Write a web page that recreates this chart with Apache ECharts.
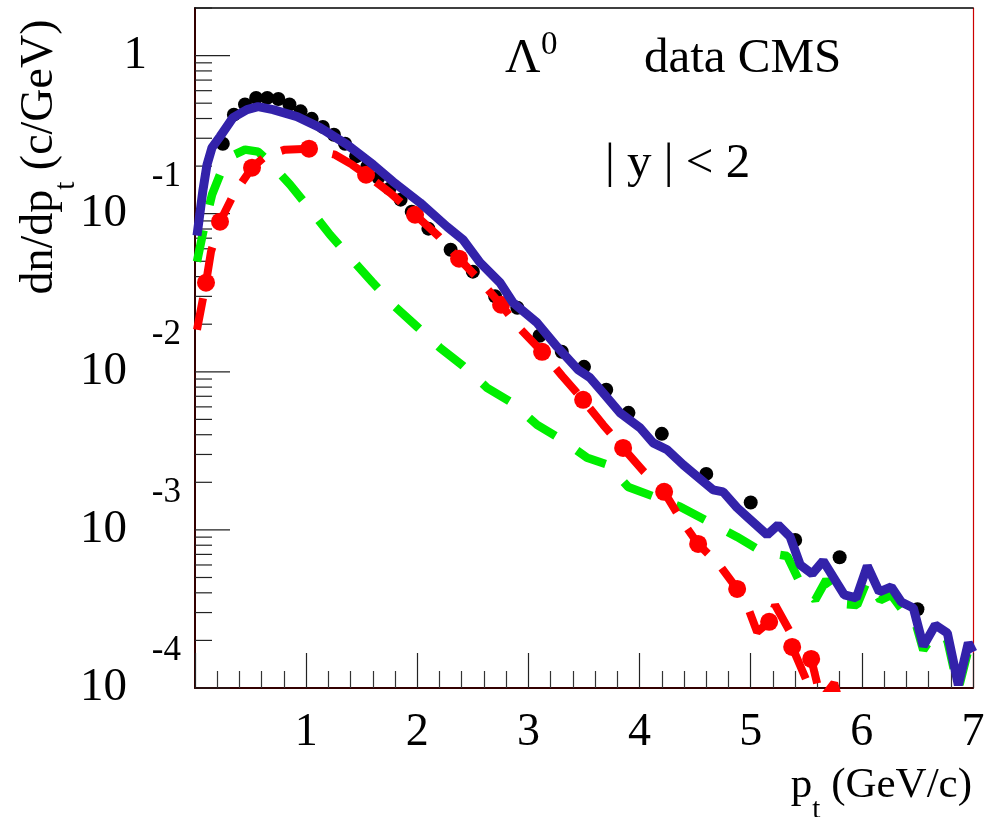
<!DOCTYPE html>
<html><head><meta charset="utf-8">
<script src="https://cdn.jsdelivr.net/npm/echarts@6/dist/echarts.min.js"></script>
<style>html,body{margin:0;padding:0;background:#fff}#c{width:996px;height:817px}</style>
</head><body><div id="c"></div>
<script>
const FONT = '"Liberation Serif", "Times New Roman", serif';

// CMS data points (pt, dn/dpt)
const dataPt = [0.25,0.35,0.45,0.55,0.65,0.75,0.85,0.95,1.05,1.15,1.25,1.35,1.45,1.55,1.65,1.75,1.85,1.95,2.1,2.3,2.5,2.7,2.9,3.1,3.3,3.5,3.7,3.9,4.2,4.6,5.0,5.4,5.8,6.5];
const dataY = [0.277,0.423,0.490,0.540,0.540,0.532,0.490,0.444,0.398,0.354,0.316,0.277,0.2305,0.198,0.169,0.144,0.1227,0.103,0.0804,0.0592,0.043,0.030,0.0254,0.0169,0.0134,0.01075,0.0077,0.0055,0.00405,0.00226,0.00149,0.000864,0.000672,0.000315];

// blue solid curve (total)
const bluePt = [0.018,0.072,0.108,0.153,0.225,0.342,0.468,0.567,0.702,0.918,1.125,1.368,1.602,1.782,2.025,2.268,2.412,2.565,2.745,2.862,3.078,3.258,3.447,3.555,3.672,3.825,4.005,4.122,4.248,4.392,4.662,4.752,4.878,4.968,5.148,5.247,5.355,5.445,5.553,5.652,5.842,5.950,6.049,6.157,6.265,6.355,6.463,6.553,6.661,6.769,6.868,6.958,7.0];
const blueY = [0.0726,0.1419,0.2042,0.2618,0.3072,0.4051,0.4551,0.4757,0.4551,0.4111,0.3502,0.2734,0.2042,0.1594,0.1174,0.0827,0.0684,0.0490,0.0366,0.02734,0.02042,0.01439,0.01030,0.00916,0.00736,0.00550,0.00442,0.00355,0.00321,0.00258,0.00179,0.00174,0.00138,0.00121,0.000930,0.001075,0.000903,0.000601,0.000527,0.000637,0.000388,0.000371,0.000592,0.000405,0.000436,0.000350,0.000321,0.000184,0.000250,0.000223,0.0001044,0.000193,0.000169];

// green dashed curve
const greenPt = [0.018,0.072,0.153,0.225,0.333,0.45,0.567,0.648,0.855,1.053,1.215,1.413,1.593,1.80,1.998,2.205,2.412,2.628,2.853,3.078,3.303,3.528,3.717,3.897,4.113,4.365,4.608,4.878,5.103,5.328,5.445,5.58,5.68,5.833,5.958,6.049,6.166,6.265,6.364,6.463,6.553,6.661,6.769,6.868,6.958,7.0];
const greenY = [0.0497,0.0758,0.1319,0.1766,0.2329,0.2542,0.2469,0.2197,0.1527,0.1030,0.0736,0.0512,0.0371,0.02579,0.01927,0.01418,0.01091,0.00792,0.00637,0.00462,0.00371,0.00286,0.00258,0.00187,0.00164,0.00140,0.00114,0.000903,0.000726,0.000684,0.000462,0.000360,0.000483,0.000340,0.000335,0.000483,0.000360,0.000388,0.000312,0.000290,0.000174,0.000226,0.000201,0.000098,0.000174,0.000150];

// red dashed curve
const redPt = [0.018,0.099,0.144,0.225,0.351,0.513,0.639,0.81,1.026,1.26,1.413,1.539,1.755,1.98,2.187,2.376,2.565,2.754,2.934,3.123,3.303,3.492,3.672,3.852,4.032,4.221,4.374,4.527,4.725,4.878,4.95,5.058,5.166,5.22,5.355,5.373,5.508,5.544,5.634,5.751,5.824];
const redY = [0.01844,0.0366,0.0575,0.0890,0.1338,0.1955,0.2329,0.2542,0.2579,0.2362,0.2042,0.1766,0.1358,0.0986,0.0726,0.0519,0.0377,0.02655,0.01844,0.01338,0.00943,0.00665,0.00462,0.00330,0.00236,0.00174,0.001157,0.000815,0.000592,0.000423,0.000360,0.000226,0.000262,0.000335,0.000226,0.000182,0.0001091,0.0001526,0.000084,0.0001075,0.00007];

// red markers on the red curve
const redDotPt = [0.099,0.225,0.513,1.026,1.539,1.98,2.376,2.754,3.123,3.492,3.852,4.221,4.527,4.878,5.166,5.373,5.544];
const redDotY = [0.0366,0.0890,0.1955,0.2579,0.1766,0.0986,0.0519,0.02655,0.01338,0.00665,0.00330,0.00174,0.000815,0.000423,0.000262,0.000182,0.0001526];

// axis ticks / labels
const xTickLabels = ['', '1', '2', '3', '4', '5', '6', '7'];
const yDecades = [1e-4, 1e-3, 1e-2, 1e-1, 1];
const yMinorMult = [2, 3, 4, 5, 6, 7, 8, 9];

const zip = (a, b) => a.map((v, i) => [v, b[i]]);

const yTickData = [];
yDecades.forEach(d => {
  yTickData.push([0, d, 35]);
  yMinorMult.forEach(m => { if (m * d <= 2.0001) yTickData.push([0, m * d, 17]); });
});

const chart = echarts.init(document.getElementById('c'), null, {renderer: 'canvas'});
const option = {
  animation: false,
  backgroundColor: '#fff',
  grid: {left: 195, right: 23, top: 8, bottom: 129, containLabel: false, outerBoundsMode: 'none'},
  xAxis: [{
    type: 'value', min: 0, max: 7, interval: 1,
    axisLine: {onZero: false, lineStyle: {color: '#330000', width: 2}},
    axisTick: {inside: true, length: 35, lineStyle: {color: '#222', width: 1.2}},
    minorTick: {show: true, splitNumber: 5, length: 17, lineStyle: {color: '#333', width: 1.2}},
    splitLine: {show: false},
    axisLabel: {
      margin: 23, fontFamily: FONT, fontSize: 46, lineHeight: 44, color: '#000',
      formatter: v => xTickLabels[Math.round(v)] || ''
    }
  }, {
    type: 'value', min: 0, max: 7, position: 'top',
    axisLine: {onZero: false, lineStyle: {color: '#000', width: 1.5}},
    axisTick: {show: false}, axisLabel: {show: false}, splitLine: {show: false}
  }],
  yAxis: [{
    type: 'log', min: 1e-4, max: 2, logBase: 10,
    axisLine: {onZero: false, lineStyle: {color: '#330000', width: 2}},
    axisTick: {show: false},
    splitLine: {show: false},
    axisLabel: {
      margin: 14, color: '#000', fontFamily: FONT,
      padding: [0, 0, 30, 0],
      formatter: function (v) {
        const lg = Math.log10(v), e = Math.round(lg);
        if (Math.abs(lg - e) > 1e-6) return '';
        if (e === 0) return '{sp| }\n{one|1}';
        return '{e|' + e + '}\n{b|10}';
      },
      rich: {
        e: {fontFamily: FONT, fontSize: 35, lineHeight: 30, color: '#000', align: 'right'},
        b: {fontFamily: FONT, fontSize: 47, lineHeight: 44, color: '#000', align: 'left', padding: [0, 54, 0, 0]},
        sp: {fontFamily: FONT, fontSize: 10, lineHeight: 30},
        one: {fontFamily: FONT, fontSize: 47, lineHeight: 44, color: '#000', align: 'left', padding: [0, 34, 0, 0]}
      }
    }
  }, {
    type: 'value', min: 0, max: 1, position: 'right',
    axisLine: {onZero: false, lineStyle: {color: '#cc0000', width: 1.2}},
    axisTick: {show: false}, axisLabel: {show: false}, splitLine: {show: false}
  }],
  graphic: [
    {type: 'text', x: 40, y: 157, rotation: Math.PI / 2,
     style: {text: '{a|dn/dp}{s|t}{a| (c/GeV)}', align: 'center', verticalAlign: 'middle',
       textAlign: 'center', textVerticalAlign: 'middle', fill: '#000',
       rich: {a: {fontFamily: FONT, fontSize: 46, lineHeight: 46, fill: '#000', color: '#000'},
              s: {fontFamily: FONT, fontSize: 29, lineHeight: 29, padding: [52, 0, 0, 0], fill: '#000', color: '#000'}}}},
    {type: 'text', x: 972, y: 786,
     style: {text: '{a|p}{s|t}{a| (GeV/c)}', align: 'right', verticalAlign: 'middle',
       textAlign: 'right', textVerticalAlign: 'middle', fill: '#000',
       rich: {a: {fontFamily: FONT, fontSize: 43, lineHeight: 43, fill: '#000', color: '#000'},
              s: {fontFamily: FONT, fontSize: 29, lineHeight: 29, padding: [48, 0, 0, 0], fill: '#000', color: '#000'}}}},
    {type: 'text', x: 505, y: 59, style: {text: 'Λ', fontFamily: FONT, fontSize: 49, fill: '#000', align: 'left', verticalAlign: 'middle', textAlign: 'left', textVerticalAlign: 'middle'}},
    {type: 'text', x: 541, y: 45, style: {text: '0', fontFamily: FONT, fontSize: 33, fill: '#000', align: 'left', verticalAlign: 'middle', textAlign: 'left', textVerticalAlign: 'middle'}},
    {type: 'text', x: 644, y: 59, style: {text: 'data CMS', fontFamily: FONT, fontSize: 49, fill: '#000', align: 'left', verticalAlign: 'middle', textAlign: 'left', textVerticalAlign: 'middle'}},
    {type: 'text', x: 605, y: 164, style: {text: '| y | < 2', fontFamily: FONT, fontSize: 49, fill: '#000', align: 'left', verticalAlign: 'middle', textAlign: 'left', textVerticalAlign: 'middle'}}
  ],
  series: [
    {
      type: 'custom', name: 'yticks', silent: true, data: yTickData,
      encode: {x: 0, y: 1},
      renderItem: function (params, api) {
        const p = api.coord([0, api.value(1)]);
        const len = api.value(2);
        return {type: 'line', shape: {x1: p[0], y1: p[1], x2: p[0] + len, y2: p[1]},
                style: {stroke: '#222', lineWidth: 1.2}};
      }
    },
    {
      type: 'scatter', name: 'data CMS', data: zip(dataPt, dataY),
      symbol: 'circle', symbolSize: 14, itemStyle: {color: '#000', opacity: 1}, silent: true
    },
    {
      type: 'line', name: 'green', data: zip(greenPt, greenY), showSymbol: false, clip: true,
      lineStyle: {color: '#00ee00', width: 8.5, type: [32, 26]}, silent: true
    },
    {
      type: 'line', name: 'red', data: zip(redPt, redY), showSymbol: false, clip: true,
      lineStyle: {color: '#ff0000', width: 8, type: [32, 20]}, silent: true
    },
    {
      type: 'scatter', name: 'red dots', data: zip(redDotPt, redDotY),
      symbol: 'circle', symbolSize: 18, itemStyle: {color: '#ff0000', opacity: 1}, silent: true
    },
    {
      type: 'line', name: 'blue', data: zip(bluePt, blueY), showSymbol: false, clip: true,
      lineStyle: {color: '#3322aa', width: 9}, silent: true
    }
  ]
};
chart.setOption(option);
</script>
</body></html>
